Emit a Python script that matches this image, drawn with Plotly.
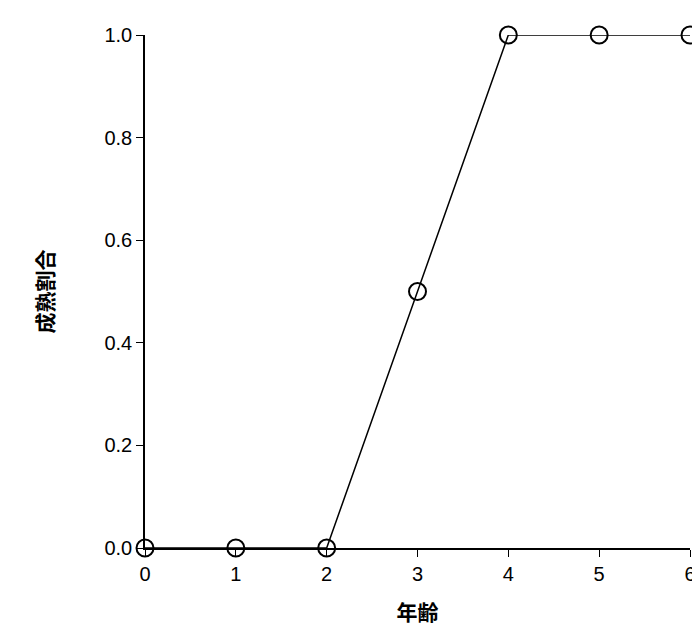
import plotly.graph_objects as go

# age vs maturity ratio
ages = [0, 1, 2, 3, 4, 5, 6]
maturity = [0.0, 0.0, 0.0, 0.5, 1.0, 1.0, 1.0]

fig = go.Figure()
fig.add_trace(go.Scatter(
    x=ages, y=maturity, mode="lines+markers", cliponaxis=False,
    line=dict(color="black", width=1.5),
    marker=dict(symbol="circle-open", size=17, color="black", line=dict(width=2)),
))
fig.update_layout(
    width=700, height=641, showlegend=False,
    plot_bgcolor="white", paper_bgcolor="white",
    margin=dict(l=137, r=16, t=27, b=101),
    font=dict(family="Liberation Sans, Noto Sans CJK JP", size=20, color="black"),
)
fig.update_xaxes(
    range=[0, 6], dtick=1, showgrid=False, zeroline=False,
    showline=True, linecolor="black", linewidth=1.5,
    ticks="outside", ticklen=7, tickcolor="black",
    title=dict(text="<b>年齢</b>", font=dict(size=21), standoff=22),
)
fig.update_yaxes(
    range=[0, 1.0], dtick=0.2, tickformat=".1f", showgrid=False, zeroline=False,
    showline=True, linecolor="black", linewidth=1.5,
    ticks="outside", ticklen=7, tickcolor="black",
    title=dict(text="<b>成熟割合</b>", font=dict(size=21), standoff=45),
)
fig.write_html("out.html")
